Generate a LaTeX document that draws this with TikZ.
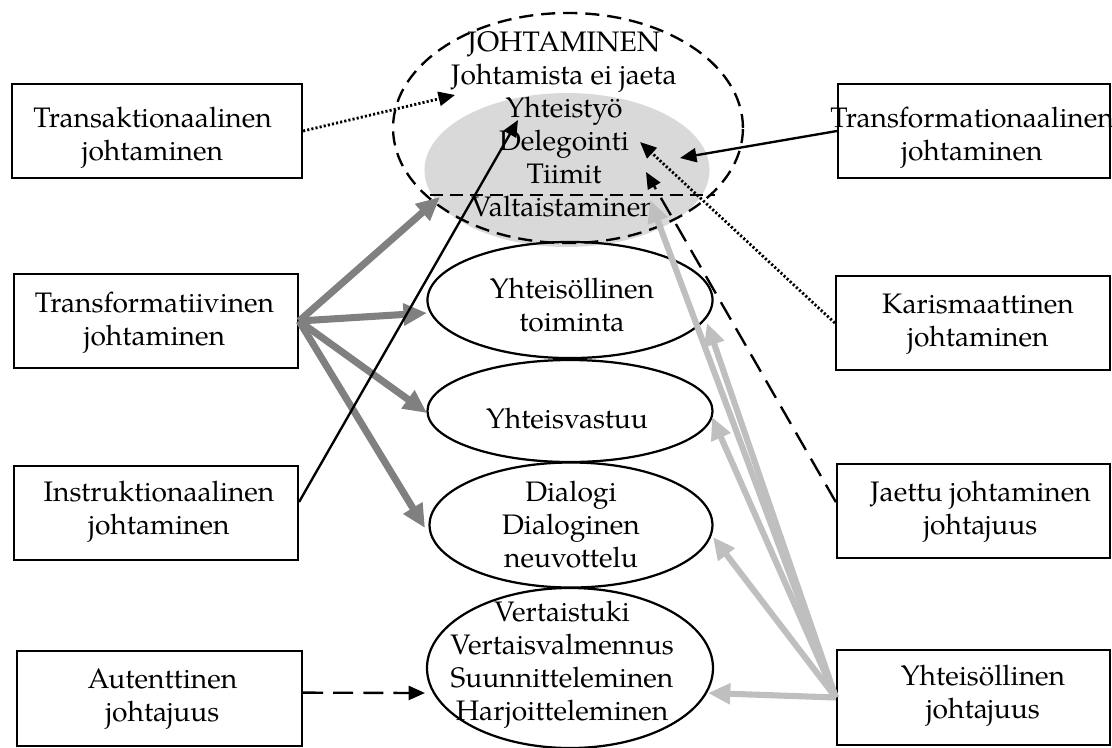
\documentclass[tikz,border=0pt]{standalone}
\usepackage{fontspec}
\setmainfont{TeX Gyre Pagella}
\usetikzlibrary{arrows.meta,shapes.geometric}
\definecolor{coreshade}{HTML}{D9D9D9}
\definecolor{darkflow}{HTML}{808080}
\definecolor{lightflow}{HTML}{BFBFBF}

\begin{document}
\begin{tikzpicture}[x=0.4255pt,y=-0.4255pt,
  every node/.style={font=\fontsize{12pt}{14pt}\selectfont},
  frame/.style={draw,line width=0.95pt,rectangle,inner sep=0pt,minimum height=40pt},
  caption/.style={align=center,inner sep=0pt},
  oval/.style={draw,line width=0.95pt,ellipse,inner sep=0pt},
  blacktip/.style={-{Triangle[length=7pt,width=6pt]},line width=1pt},
  dotline/.style={blacktip,line width=1.2pt,dash pattern=on 0.9pt off 0.9pt},
  dashline/.style={blacktip,dash pattern=on 8.5pt off 4.3pt},
  darkarrow/.style={-{Triangle[length=10pt,width=9pt]},line width=3pt,draw=darkflow,fill=darkflow},
  lightarrow/.style={-{Triangle[length=9.5pt,width=8.5pt]},line width=2.6pt,draw=lightflow,fill=lightflow}
]
\useasboundingbox (0,0) rectangle (1112,747);

% central leadership ellipse with its shaded core
\node[ellipse,fill=coreshade,inner sep=0pt,minimum width=121.3pt,minimum height=65.5pt] (core) at (567,170) {};
\node[oval,line width=1pt,dash pattern=on 6pt off 3.4pt,minimum width=148.9pt,minimum height=97.9pt] (lead) at (568,128) {};
\draw[line width=1pt,dash pattern=on 5.5pt off 3pt] (430,195) -- (715,195);
\node[caption] (leadtext) at (564,124.5) {JOHTAMINEN\\Johtamista ei jaeta\\Yhteistyö\\Delegointi\\Tiimit\\Valtaistaminen};

% outcome ellipses
\node[oval,minimum width=121.3pt,minimum height=49.4pt] (act) at (570,300) {};
\node[caption] (acttext) at (572,305) {Yhteisöllinen\\toiminta};
\node[oval,minimum width=121.3pt,minimum height=43.4pt] (resp) at (570,411) {};
\node[caption] (resptext) at (567,419) {Yhteisvastuu};
\node[oval,minimum width=120.4pt,minimum height=53.2pt] (dial) at (571,525) {};
\node[caption] (dialtext) at (571,524.5) {Dialogi\\Dialoginen\\neuvottelu};
\node[oval,minimum width=121.7pt,minimum height=68.1pt] (peer) at (570,668) {};
\node[caption] (peertext) at (562,665) {Vertaistuki\\Vertaisvalmennus\\Suunnitteleminen\\Harjoitteleminen};

% leadership styles, left column
\node[frame,minimum width=123.4pt] (trans) at (157,131) {};
\node[caption] (transtext) at (152.5,137.5) {Transaktionaalinen\\johtaminen};
\node[frame,minimum width=120.8pt] (tform) at (156,321) {};
\node[caption] (tformtext) at (154.5,323) {Transformatiivinen\\johtaminen};
\node[frame,minimum width=120.8pt] (instr) at (156,513) {};
\node[caption] (instrtext) at (159,512) {Instruktionaalinen\\johtaminen};
\node[frame,minimum width=121.3pt,minimum height=40.4pt] (auth) at (159.5,698.5) {};
\node[caption] (authtext) at (162.5,699) {Autenttinen\\johtajuus};

% leadership styles, right column
\node[frame,minimum width=115.7pt] (tnal) at (974,131) {};
\node[caption] (tnaltext) at (972,137.5) {Transformationaalinen\\johtaminen};
\node[frame,minimum width=116.6pt] (char) at (973,323) {};
\node[caption] (chartext) at (978,324) {Karismaattinen\\johtaminen};
\node[frame,minimum width=116.2pt] (shared) at (973.5,511) {};
\node[caption] (sharedtext) at (980.5,512) {Jaettu johtaminen\\johtajuus};
\node[frame,minimum width=116.2pt,minimum height=40.4pt] (comm) at (973.5,697.5) {};
\node[caption] (commtext) at (983,695.5) {Yhteisöllinen\\johtajuus};

% arrow end points
\coordinate (pTrans) at (455,95);
\coordinate (pTnal) at (680,158);
\coordinate (pChar) at (640,142);
\coordinate (pShared) at (646,172);
\coordinate (pInstr) at (518,120);
\coordinate (dCore) at (440,197);
\coordinate (dAct) at (427,313);
\coordinate (dResp) at (427,413);
\coordinate (dDial) at (425,528);
\coordinate (lPeer) at (708,693);
\coordinate (lDial) at (713,537);
\coordinate (lResp) at (712,417);
\coordinate (lAct) at (707,323);
\coordinate (lCore) at (650,200);
\coordinate (pPeer) at (425,693);

% transformative leadership
\draw[darkarrow] (tform.east) -- (dCore);
\draw[darkarrow] (tform.east) -- (dAct);
\draw[darkarrow] (tform.east) -- (dResp);
\draw[darkarrow] (tform.east) -- (dDial);

% communal leadership
\draw[lightarrow] (comm.west) -- (lPeer);
\draw[lightarrow] (comm.west) -- (lDial);
\draw[lightarrow] (comm.west) -- (lResp);
\draw[lightarrow] (comm.west) -- (lAct);
\draw[lightarrow] (comm.west) -- (lCore);

% single links
\draw[dotline] (trans.east) -- (pTrans);
\draw[blacktip] (tnal.west) -- (pTnal);
\draw[dotline] (char.west) -- (pChar);
\draw[dashline] ([yshift=3.8pt]shared.west) -- (pShared);
\draw[blacktip] ([yshift=4.7pt]instr.east) -- (pInstr);
\draw[dashline] ([yshift=2.5pt]auth.east) -- (pPeer);
\end{tikzpicture}
\end{document}
